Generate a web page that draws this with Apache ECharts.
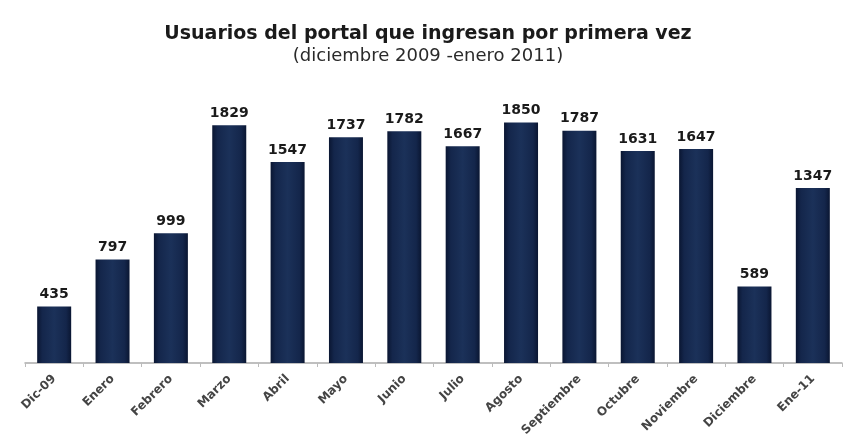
<!DOCTYPE html>
<html><head><meta charset="utf-8">
<script src="https://cdn.jsdelivr.net/npm/echarts@6/dist/echarts.min.js"></script>
<style>html,body{margin:0;padding:0;background:#fff}#c{width:856px;height:445px}</style>
</head><body><div id="c"></div>
<script>
const categories = ["Dic-09","Enero","Febrero","Marzo","Abril","Mayo","Junio","Julio","Agosto","Septiembre","Octubre","Noviembre","Diciembre","Ene-11"];
const usuarios = [435, 797, 999, 1829, 1547, 1737, 1782, 1667, 1850, 1787, 1631, 1647, 589, 1347];
const titleText = "Usuarios del portal que ingresan por primera vez";
const subtitleText = "(diciembre 2009 -enero 2011)";

const chart = echarts.init(document.getElementById('c'));
chart.setOption({
  animation: false,
  backgroundColor: '#fff',
  title: {
    text: titleText,
    subtext: subtitleText,
    left: 'center', top: 20, itemGap: 3,
    textStyle: {fontFamily: 'DejaVu Sans', fontWeight: 'bold', fontSize: 19, color: '#1a1a1a'},
    subtextStyle: {fontFamily: 'DejaVu Sans', fontSize: 18, color: '#2a2a2a'}
  },
  grid: {left: 25, right: 14, top: 103, bottom: 82},
  xAxis: {
    type: 'category', data: categories,
    axisLine: {lineStyle: {color: '#aaa', width: 1.5}},
    axisTick: {show: true, length: 4, lineStyle: {color: '#bbb'}},
    axisLabel: {rotate: 45, interval: 0, fontFamily: 'DejaVu Sans', fontWeight: 'bold', fontSize: 12, color: '#444', margin: 14}
  },
  yAxis: {type: 'value', min: 0, max: 2000, show: false, splitLine: {show: false}},
  series: [{
    type: 'bar', data: usuarios, barWidth: 34,
    itemStyle: {
      color: new echarts.graphic.LinearGradient(0, 0, 1, 0, [
        {offset: 0, color: '#0a1632'},
        {offset: 0.15, color: '#14264b'},
        {offset: 0.5, color: '#1b3159'},
        {offset: 0.85, color: '#14264b'},
        {offset: 1, color: '#0a1632'}
      ])
    },
    label: {show: true, position: 'top', distance: 5, fontFamily: 'DejaVu Sans', fontWeight: 'bold', fontSize: 14, color: '#1a1a1a'}
  }]
});
</script></body></html>
